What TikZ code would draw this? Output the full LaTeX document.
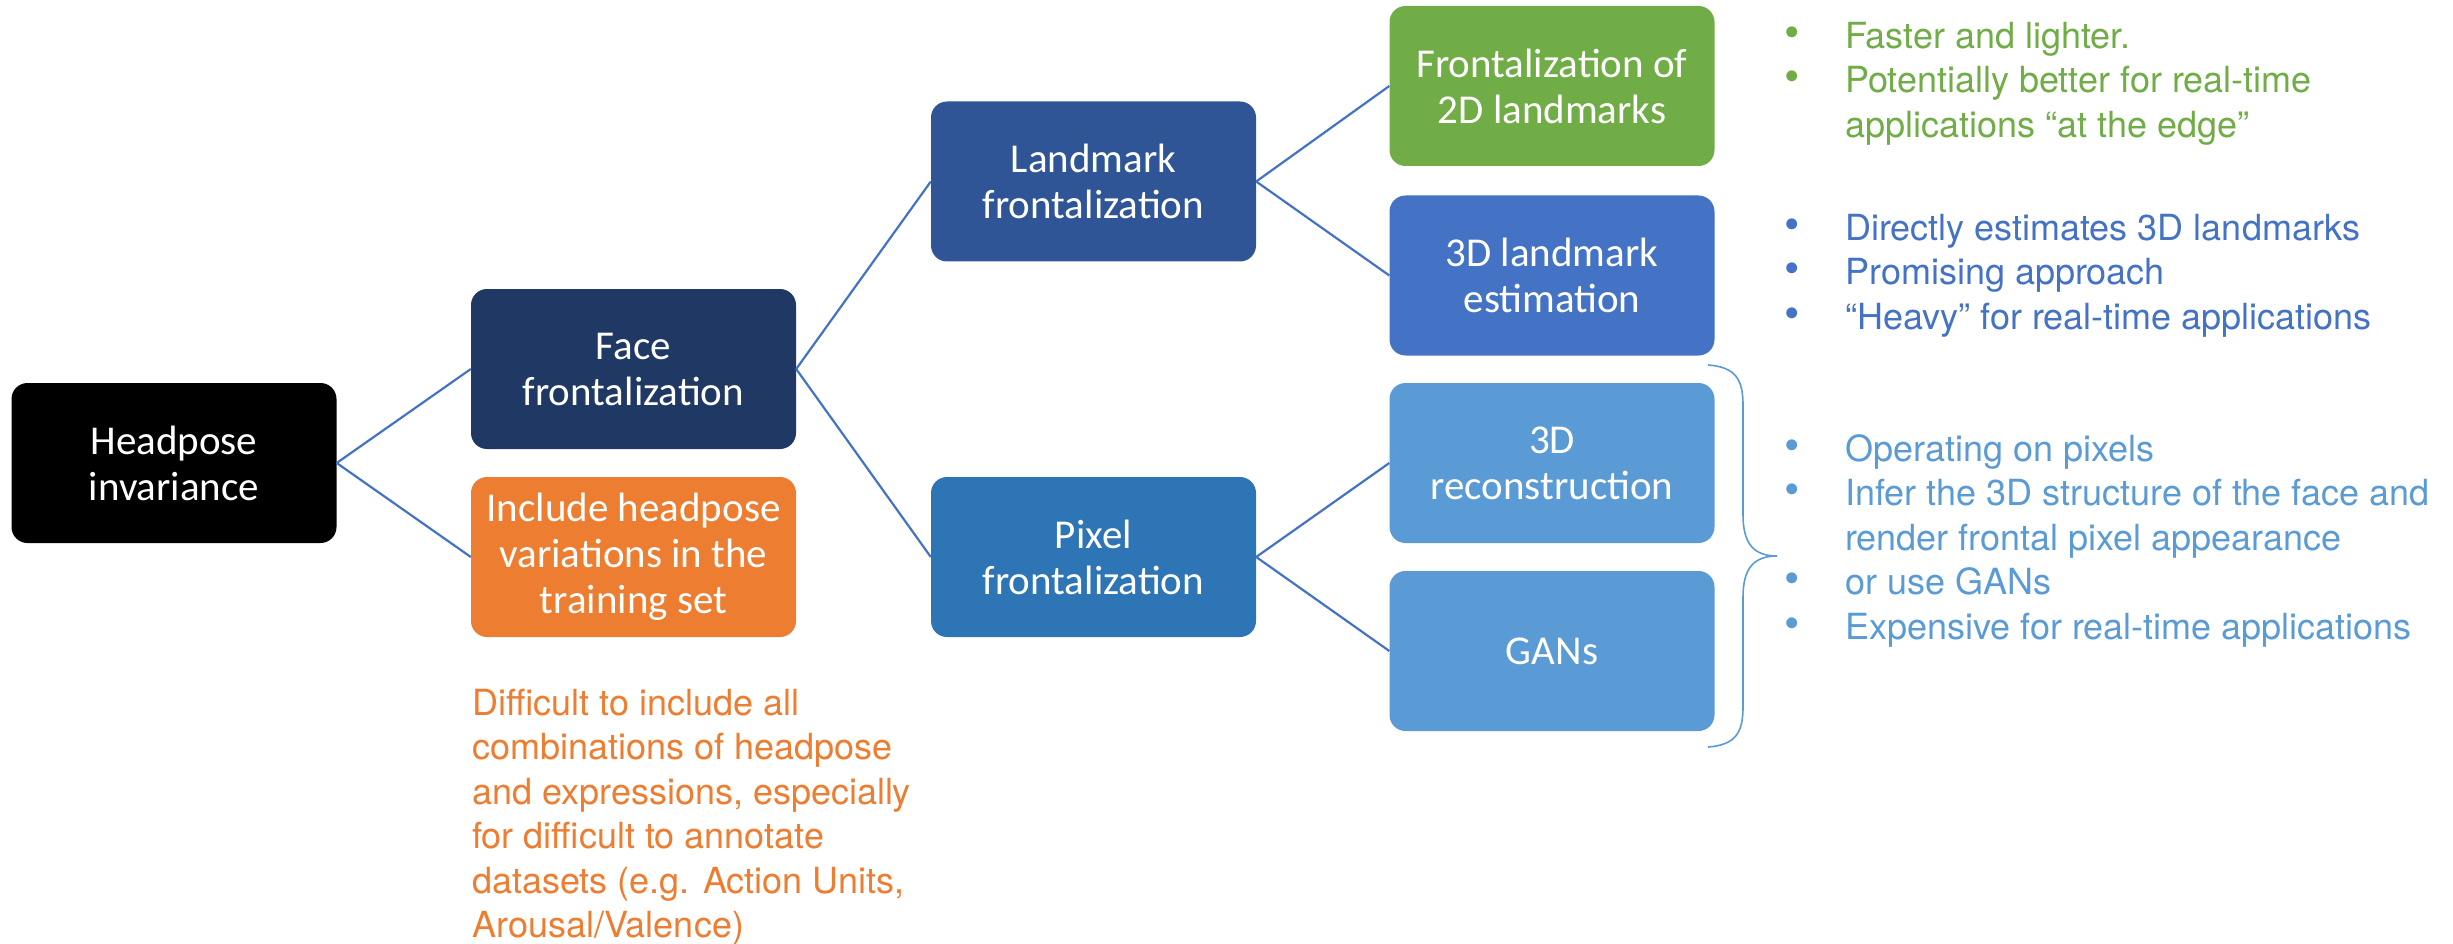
\documentclass[tikz,border=0pt]{standalone}
\usepackage{fontspec}
\setmainfont{TeX Gyre Heros}
\newfontfamily\boxfont{Carlito}
\definecolor{cNavy}{HTML}{203864}
\definecolor{cOrange}{HTML}{ED7D31}
\definecolor{cDeep}{HTML}{2F5597}
\definecolor{cMid}{HTML}{2E75B6}
\definecolor{cGreen}{HTML}{70AD47}
\definecolor{cBlue}{HTML}{4472C4}
\definecolor{cLight}{HTML}{5B9BD5}
\definecolor{cLine}{HTML}{4472C4}
\newcommand{\bulletline}[1]{\makebox[55pt][l]{\hspace*{-6pt}\raisebox{1pt}{\fontsize{44}{44}\selectfont\textbullet}}#1}
\newcommand{\contline}[1]{\hspace*{55pt}#1}
\tikzset{
  tbox/.style={rounded corners=16pt, minimum width=325pt, minimum height=160pt,
    inner sep=0pt, align=center, text=white,
    font=\boxfont\fontsize{41}{46}\selectfont},
  link/.style={draw=cLine, line width=2.2pt},
  notes/.style={anchor=north west, inner sep=0pt, align=left,
    font=\fontsize{36}{44.5}\selectfont}
}
\begin{document}
\begin{tikzpicture}[x=1pt,y=-1pt]
\useasboundingbox (0,0) rectangle (2453,944);

% tree of boxes
\node[tbox, fill=black] (hp) at (174,463) {Headpose\\invariance};
\node[tbox, fill=cNavy] (ff) at (633.5,369) {Face\\frontalization};
\node[tbox, fill=cOrange] (inc) at (633.5,557) {Include headpose\\variations in the\\training set};
\node[tbox, fill=cDeep] (lf) at (1093.5,181.5) {Landmark\\frontalization};
\node[tbox, fill=cMid] (pf) at (1093.5,557) {Pixel\\frontalization};
\node[tbox, fill=cGreen] (f2d) at (1552,86) {Frontalization of\\2D landmarks};
\node[tbox, fill=cBlue] (lm3) at (1552,275.5) {3D landmark\\estimation};
\node[tbox, fill=cLight] (rec) at (1552,463) {3D\\reconstruction};
\node[tbox, fill=cLight] (gan) at (1552,651) {GANs};

% connectors
\draw[link] (hp.east) -- (ff.west);
\draw[link] (hp.east) -- (inc.west);
\draw[link] (ff.east) -- (lf.west);
\draw[link] (ff.east) -- (pf.west);
\draw[link] (lf.east) -- (f2d.west);
\draw[link] (lf.east) -- (lm3.west);
\draw[link] (pf.east) -- (rec.west);
\draw[link] (pf.east) -- (gan.west);

% brace grouping the pixel methods
\draw[cLight, line width=1.6pt]
  (1708,365) .. controls (1736,367) and (1743,380) .. (1743,405)
  -- (1743,515) .. controls (1743,545) and (1755,556) .. (1777,556)
  .. controls (1755,556) and (1743,567) .. (1743,597)
  -- (1743,707) .. controls (1743,732) and (1736,745) .. (1708,747);

% notes
\node[notes, text=cGreen] (ngreen) at (1790,22)
  {\bulletline{Faster and lighter.}\\
   \bulletline{Potentially better for real-time}\\
   \contline{applications “at the edge”}};
\node[notes, text=cBlue] (nblue) at (1790,214)
  {\bulletline{Directly estimates 3D landmarks}\\
   \bulletline{Promising approach}\\
   \bulletline{“Heavy” for real-time applications}};
\node[notes, text=cLight] (nlight) at (1790,434)
  {\bulletline{Operating on pixels}\\
   \bulletline{Infer the 3D structure of the face and}\\
   \contline{render frontal pixel appearance}\\
   \bulletline{or use GANs}\\
   \bulletline{Expensive for real-time applications}};
\node[anchor=north west, inner sep=0pt, align=left, text=cOrange,
  font=\fontsize{36}{44.4}\selectfont] (norange) at (472,689)
  {Difficult to include all\\
   combinations of headpose\\
   and expressions, especially\\
   for difficult to annotate\\
   datasets (e.g. Action Units,\\
   Arousal/Valence)};
\end{tikzpicture}
\end{document}
